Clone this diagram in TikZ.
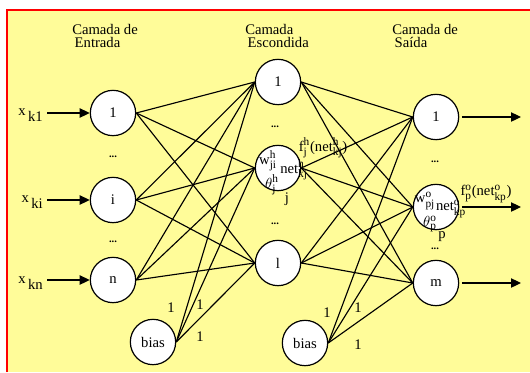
\documentclass[tikz,border=0pt]{standalone}
\usepackage{fontspec}
\setmainfont{Liberation Serif}
\usetikzlibrary{arrows.meta,positioning}
\definecolor{paper}{RGB}{255,252,153}
\newcommand{\supsub}[2]{\ensuremath{^{\hbox{\fontsize{8.5}{8.5}\selectfont #1}}_{\hbox{\fontsize{8.5}{8.5}\selectfont #2}}}}
\tikzset{
    neuron/.style={circle,draw,fill=white,line width=0.9pt,minimum size=34pt,inner sep=0pt,font=\fontsize{11}{11}\selectfont},
    link/.style={line width=0.85pt},
    layer/.style={align=left,inner sep=0pt,font=\fontsize{11}{9.5}\selectfont},
    dots/.style={font=\bfseries\footnotesize,inner sep=0pt},
    one/.style={font=\fontsize{11}{11}\selectfont,inner sep=0pt},
    small/.style={font=\fontsize{11}{11}\selectfont,inner sep=0pt}
}
\begin{document}
\begin{tikzpicture}[x=0.75pt,y=-0.75pt,>={Triangle[length=7.5pt,width=7pt]}]
    \useasboundingbox (0,0) rectangle (530,372);
    \fill[paper] (7,10) rectangle (530,372);
    \draw[red,line width=0.9pt] (7,372) -- (7,10) -- (530,10);

    % titulos das camadas
    \node[layer,anchor=north west] (tin) at (72,24) {Camada de\\\,Entrada};
    \node[layer,anchor=north west] (thid) at (245,24) {Camada\\\,Escondida};
    \node[layer,anchor=north west] (tout) at (392,24) {Camada de\\\,Saída};

    % camada de entrada
    \node[neuron] (in1) at (113,113) {1};
    \node[neuron] (ini) at (113,200) {i};
    \node[neuron] (inn) at (113,280) {n};
    \node[neuron] (inb) at (153,342) {bias};
    \node[dots] (din1) at (113,157) {...};
    \node[dots] (din2) at (113,242) {...};

    % camada escondida
    \node[neuron] (hid1) at (278,82) {1};
    \node[neuron] (hidj) at (278,168) {};
    \node[neuron] (hidl) at (278,263) {l};
    \node[neuron] (hidb) at (305,343) {bias};
    \node[dots] (dhid1) at (275,127) {...};
    \node[dots] (dhid2) at (275,224) {...};

    % camada de saida
    \node[neuron] (out1) at (436,117) {1};
    \node[neuron] (outp) at (436,207) {};
    \node[neuron] (outm) at (436,283) {m};
    \node[dots] (dout1) at (435,162) {...};
    \node[dots] (dout2) at (435,249) {...};

    % conexoes
    \foreach \s in {in1,ini,inn,inb}
        \foreach \t in {hid1,hidj,hidl}
            \draw[link] (\s.east) -- (\t.west);
    \foreach \s in {hid1,hidj,hidl,hidb}
        \foreach \t in {out1,outp,outm}
            \draw[link] (\s.east) -- (\t.west);

    % entradas
    \node[one,anchor=east] (xk1) at (43,115) {x\,\raisebox{-0.8ex}{k1}};
    \node[one,anchor=east] (xki) at (43,202) {x\,\raisebox{-0.8ex}{ki}};
    \node[one,anchor=east] (xkn) at (43,283) {x\,\raisebox{-0.8ex}{kn}};
    \draw[link,->] ([xshift=3pt]xk1.east |- in1) -- (in1.west);
    \draw[link,->] ([xshift=3pt]xki.east |- ini) -- (ini.west);
    \draw[link,->] ([xshift=3pt]xkn.east |- inn) -- (inn.west);

    % saidas
    \coordinate (y1) at (521,117);
    \coordinate (yp) at (521,207);
    \coordinate (ym) at (521,283);
    \draw[link,->] ([xshift=2pt]out1.east) -- (y1);
    \draw[link,->] ([xshift=2pt]outp.east) -- (yp);
    \draw[link,->] ([xshift=2pt]outm.east) -- (ym);

    % pesos do bias
    \node[one] (b1) at (171,308) {1};
    \node[one] (b2) at (200,305) {1};
    \node[one] (b3) at (200,337) {1};
    \node[one] (b4) at (327,313) {1};
    \node[one] (b5) at (358,308) {1};
    \node[one] (b6) at (358,345) {1};

    % rotulos do neuronio j
    \node[small] (wh) at (268,161) {w\supsub{h}{ji}};
    \node[small] (neth) at (294,170) {net\supsub{h}{kj}};
    \node[small] (thh) at (272,185) {$\theta$\supsub{h}{j}};
    \node[small] (jj) at (287,199) {j};
    \node[small] (fh) at (323,148) {f\supsub{h}{j}(net\supsub{h}{kj})};

    % rotulos do neuronio p
    \node[small] (wo) at (425,201) {w\supsub{o}{pj}};
    \node[small] (neto) at (451,209) {net\supsub{o}{kp}};
    \node[small] (tho) at (430,224) {$\theta$\supsub{o}{p}};
    \node[small] (pp) at (442,237) {p};
    \node[small] (fo) at (486,194) {f\supsub{o}{p}(net\supsub{o}{kp})};
\end{tikzpicture}
\end{document}
